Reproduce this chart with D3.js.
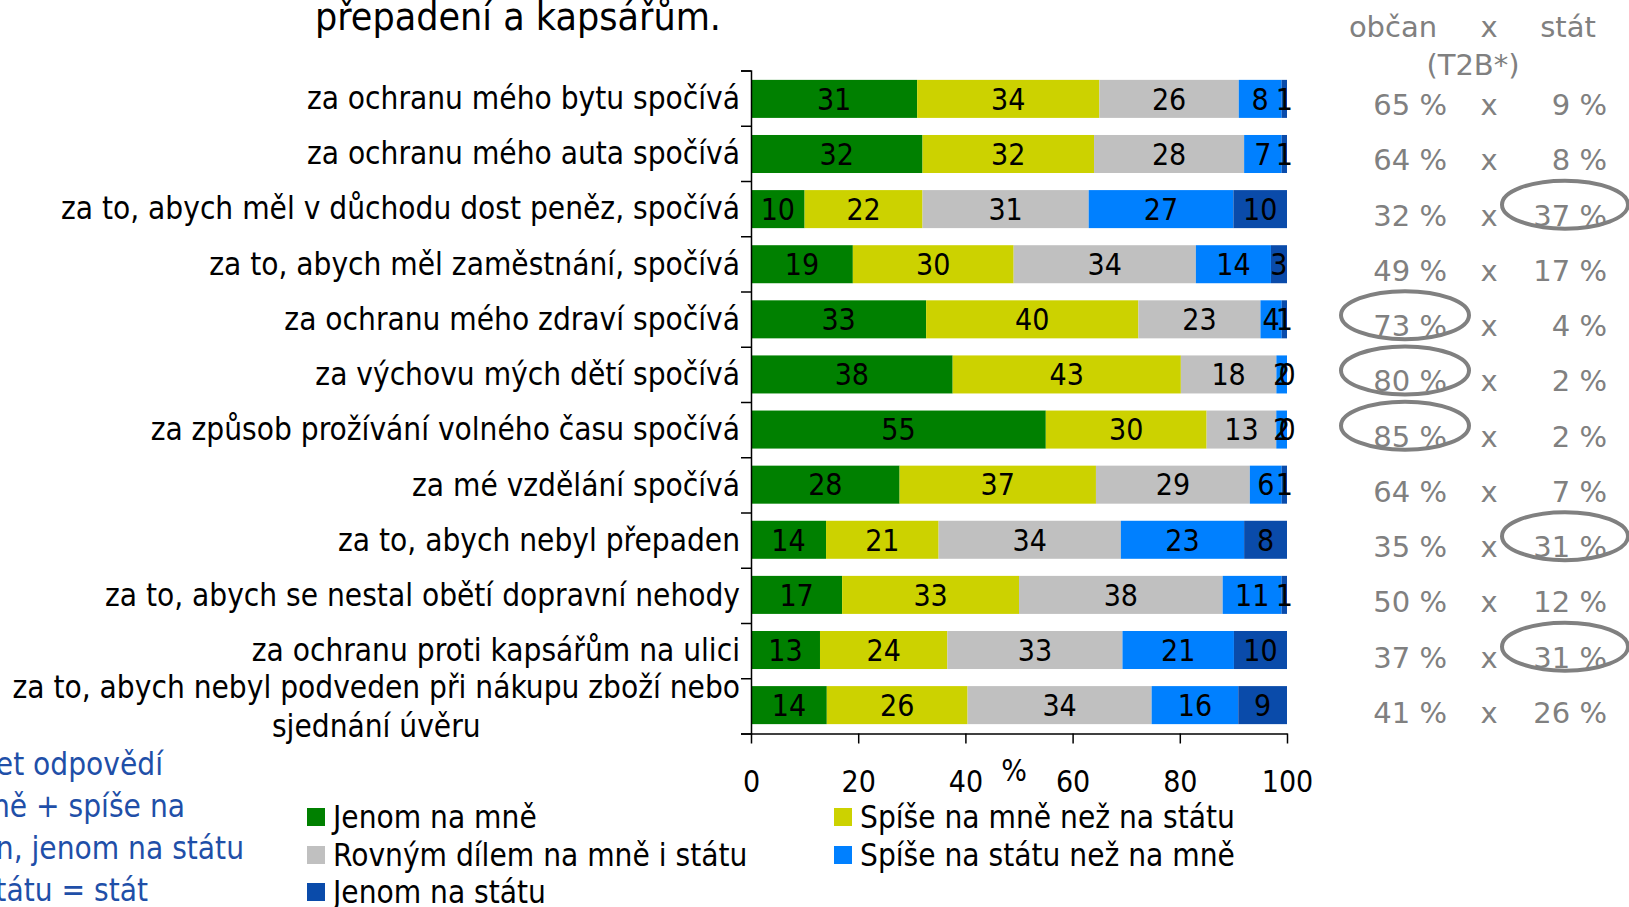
<!DOCTYPE html>
<html>
<head>
<meta charset="utf-8">
<script src="https://cdn.jsdelivr.net/npm/d3@7"></script>
<style>
  body { margin: 0; background: #fff; }
  svg text { font-family: "DejaVu Sans Condensed", "DejaVu Sans", sans-serif; font-stretch: condensed; }
  svg text.wide { font-family: "DejaVu Sans", sans-serif; font-stretch: normal; }
</style>
</head>
<body>
<div id="chartArea"></div>
<script>
// Daten
const categories = [
  "za ochranu mého bytu spočívá",
  "za ochranu mého auta spočívá",
  "za to, abych měl v důchodu dost peněz, spočívá",
  "za to, abych měl zaměstnání, spočívá",
  "za ochranu mého zdraví spočívá",
  "za výchovu mých dětí spočívá",
  "za způsob prožívání volného času spočívá",
  "za mé vzdělání spočívá",
  "za to, abych nebyl přepaden",
  "za to, abych se nestal obětí dopravní nehody",
  "za ochranu proti kapsářům na ulici",
  "za to, abych nebyl podveden při nákupu zboží nebo|sjednání úvěru"
];
const seriesNames = ["Jenom na mně", "Spíše na mně než na státu", "Rovným dílem na mně i státu", "Spíše na státu než na mně", "Jenom na státu"];
const jenomNaMne    = [31, 32, 10, 19, 33, 38, 55, 28, 14, 17, 13, 14];
const spiseNaMne    = [34, 32, 22, 30, 40, 43, 30, 37, 21, 33, 24, 26];
const rovnymDilem   = [26, 28, 31, 34, 23, 18, 13, 29, 34, 38, 33, 34];
const spiseNaStatu  = [8, 7, 27, 14, 4, 2, 2, 6, 23, 11, 21, 16];
const jenomNaStatu  = [1, 1, 10, 3, 1, 0, 0, 1, 8, 1, 10, 9];
const obcanT2B = [65, 64, 32, 49, 73, 80, 85, 64, 35, 50, 37, 41];
const statT2B  = [9, 8, 37, 17, 4, 2, 2, 7, 31, 12, 31, 26];
const circledObcan = [4, 5, 6];
const circledStat = [2, 8, 10];
const xTicks = [0, 20, 40, 60, 80, 100];
const noteLines = ["et odpovědí", "ně + spíše na", "n, jenom na státu", "tátu = stát"];
const colors = ["#008000", "#CCD200", "#C0C0C0", "#0080FF", "#0A4BAA"];

const width = 1629, height = 907;
const fs = 30, fsCat = 31.3;

const svg = d3.select("#chartArea").append("svg")
    .attr("width", width)
    .attr("height", height);

// Tabelle für d3.stack
const keys = ["a", "b", "c", "d", "e"];
const series = [jenomNaMne, spiseNaMne, rovnymDilem, spiseNaStatu, jenomNaStatu];
const table = categories.map((c, i) => {
  const row = {cat: c, idx: i};
  keys.forEach((k, j) => row[k] = series[j][i]);
  return row;
});
const stacked = d3.stack().keys(keys).offset(d3.stackOffsetExpand)(table);

// Skalen
const xScale = d3.scaleLinear().domain([0, 1]).range([751, 1287]);
const xAxisScale = d3.scaleLinear().domain([0, 100]).range([751, 1287]);
const yScale = d3.scaleBand().domain(d3.range(categories.length)).range([70.5, 733.5]).paddingInner(0.31).paddingOuter(0.17);
const yBound = d3.scaleLinear().domain([0, categories.length]).range([70.5, 733.5]);
const colorScale = d3.scaleOrdinal().domain(keys).range(colors);

// Balken
const layer = svg.selectAll(".layer")
    .data(stacked)
    .enter().append("g")
    .attr("class", "layer")
    .attr("fill", d => colorScale(d.key));

layer.selectAll("rect")
    .data(d => d)
    .enter().append("rect")
    .attr("x", d => xScale(d[0]))
    .attr("width", d => xScale(d[1]) - xScale(d[0]))
    .attr("y", d => yScale(d.data.idx))
    .attr("height", yScale.bandwidth());

// Werte in den Balken
layer.selectAll("text")
    .data(d => d.map(v => ({v, key: d.key})))
    .enter().append("text")
    .attr("x", d => (xScale(d.v[0]) + xScale(d.v[1])) / 2)
    .attr("y", d => yScale(d.v.data.idx) + yScale.bandwidth() / 2 + fs * 0.36)
    .attr("text-anchor", "middle")
    .style("font-size", fs + "px")
    .style("fill", "#000")
    .text(d => d.v.data[d.key]);

// Achsen
svg.append("g")
    .attr("transform", "translate(751,0)")
    .call(d3.axisLeft(yBound).tickValues(d3.range(categories.length + 1)).tickSize(10).tickFormat(""))
    .call(g => g.selectAll("line, path").attr("stroke", "#000").attr("stroke-width", 1.5));

svg.append("g")
    .attr("transform", "translate(0,733.5)")
    .call(d3.axisBottom(xAxisScale).tickValues(xTicks).tickSize(10).tickSizeOuter(0).tickPadding(27))
    .call(g => g.selectAll("line, path").attr("stroke", "#000").attr("stroke-width", 1.5))
    .call(g => g.selectAll("text").style("font-size", fs + "px").style("font-family", null).attr("fill", "#000"));

svg.append("text")
    .attr("x", 1014)
    .attr("y", 781)
    .attr("text-anchor", "middle")
    .style("font-size", fs + "px")
    .text("%");

// Kategorien
categories.forEach((c, i) => {
  const lines = c.split("|");
  const cy = yBound(i + 0.5);
  if (lines.length === 1) {
    svg.append("text")
      .attr("x", 740)
      .attr("y", cy + fs * 0.36)
      .attr("text-anchor", "end")
      .style("font-size", fsCat + "px")
      .text(c);
  } else {
    const first = svg.append("text")
      .attr("x", 740)
      .attr("y", cy - 19 + fs * 0.36)
      .attr("text-anchor", "end")
      .style("font-size", fsCat + "px")
      .text(lines[0]);
    const w = first.node().getComputedTextLength();
    svg.append("text")
      .attr("x", 740 - w / 2)
      .attr("y", cy + 20 + fs * 0.36)
      .attr("text-anchor", "middle")
      .style("font-size", fsCat + "px")
      .text(lines[1]);
  }
});

// Titel (oben abgeschnitten)
svg.append("text")
    .attr("x", 518)
    .attr("y", 30)
    .attr("text-anchor", "middle")
    .style("font-size", "39px")
    .text("přepadení a kapsářům.");

// Rechte Spalte: občan x stát
const grey = "#808080";
const colObcan = 1447, colX = 1489, colStat = 1607;
const fsGrey = "29px";
svg.append("text").attr("class", "wide").attr("x", 1393).attr("y", 37).attr("text-anchor", "middle")
    .style("font-size", fsGrey).style("fill", grey).text("občan");
svg.append("text").attr("class", "wide").attr("x", colX).attr("y", 37).attr("text-anchor", "middle")
    .style("font-size", fsGrey).style("fill", grey).text("x");
svg.append("text").attr("class", "wide").attr("x", 1568).attr("y", 37).attr("text-anchor", "middle")
    .style("font-size", fsGrey).style("fill", grey).text("stát");
svg.append("text").attr("class", "wide").attr("x", 1473).attr("y", 75).attr("text-anchor", "middle")
    .style("font-size", fsGrey).style("fill", grey).text("(T2B*)");

obcanT2B.forEach((v, i) => {
  const base = yBound(i + 0.5) + 17;
  svg.append("text").attr("class", "wide").attr("x", colObcan).attr("y", base).attr("text-anchor", "end")
    .style("font-size", fsGrey).style("fill", grey).text(v + " %");
  svg.append("text").attr("class", "wide").attr("x", colX).attr("y", base).attr("text-anchor", "middle")
    .style("font-size", fsGrey).style("fill", grey).text("x");
  svg.append("text").attr("class", "wide").attr("x", colStat).attr("y", base).attr("text-anchor", "end")
    .style("font-size", fsGrey).style("fill", grey).text(statT2B[i] + " %");
});

// Ellipsen um hervorgehobene Werte
circledObcan.forEach(i => {
  svg.append("ellipse").attr("cx", 1405).attr("cy", yBound(i + 0.5) - 4)
    .attr("rx", 64).attr("ry", 24).attr("fill", "none").attr("stroke", grey).attr("stroke-width", 4);
});
circledStat.forEach(i => {
  svg.append("ellipse").attr("cx", 1565).attr("cy", yBound(i + 0.5) - 4)
    .attr("rx", 63).attr("ry", 24).attr("fill", "none").attr("stroke", grey).attr("stroke-width", 4);
});

// Fußnote links (links abgeschnitten)
const noteEnds = [163, 185, 244, 148];
noteLines.forEach((t, i) => {
  svg.append("text")
    .attr("x", noteEnds[i])
    .attr("y", 775 + i * 42)
    .attr("text-anchor", "end")
    .style("font-size", fsCat + "px")
    .style("fill", "#1F4FA8")
    .text(t);
});

// Legende
const legendPos = [[307, 817], [834, 817], [307, 855], [834, 855], [307, 892]];
seriesNames.forEach((name, i) => {
  const [lx, ly] = legendPos[i];
  svg.append("rect").attr("x", lx).attr("y", ly - 9).attr("width", 18).attr("height", 18)
    .attr("fill", colors[i]);
  svg.append("text").attr("x", lx + 26).attr("y", ly + fs * 0.36)
    .style("font-size", fsCat + "px").text(name);
});
</script>
</body>
</html>
